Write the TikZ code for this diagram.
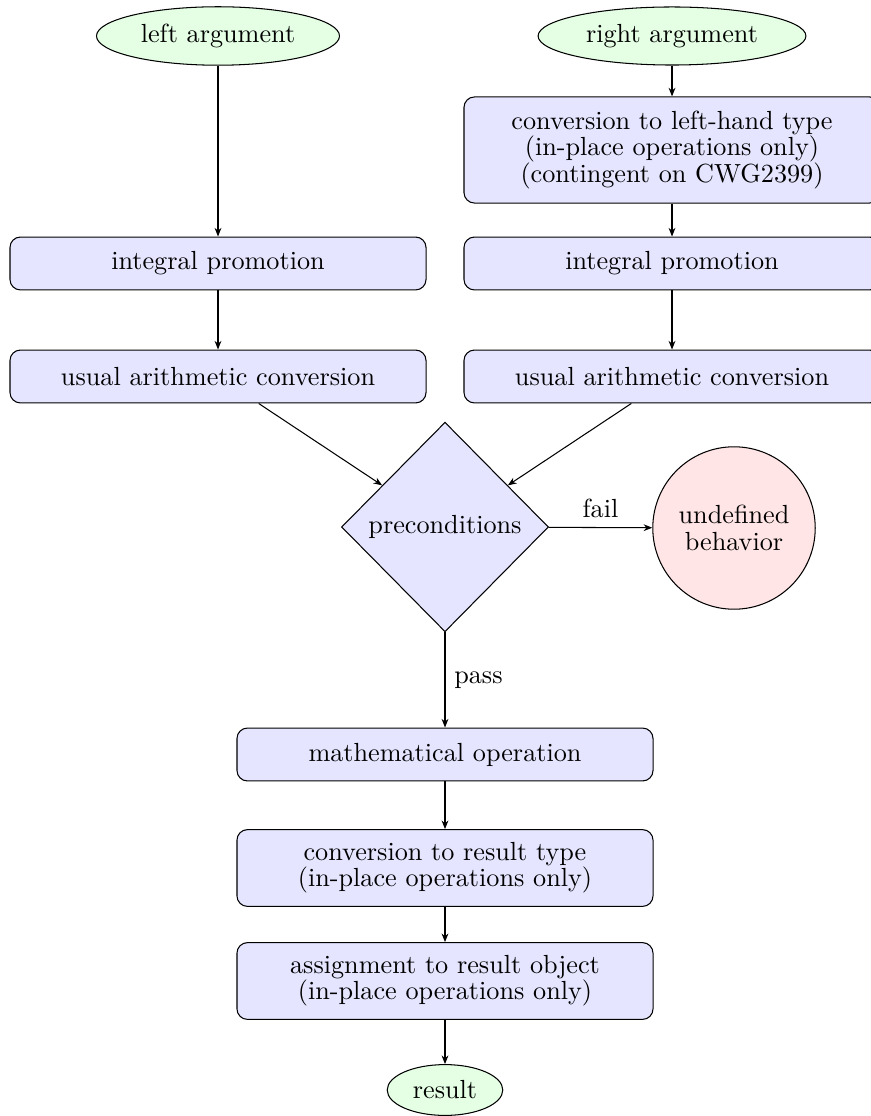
\documentclass[tikz,border=0pt]{standalone}
\usetikzlibrary{shapes.geometric,arrows.meta}
\begin{document}
\begin{tikzpicture}[x=0.3817pt,y=-0.3817pt,
  every node/.style={font=\fontsize{10pt}{10pt}\selectfont},
  proc/.style={draw, rounded corners=4pt, fill=blue!10, align=center,
    minimum width=158.8pt, minimum height=20.2pt, inner ysep=2pt},
  proctwo/.style={proc, minimum height=29.3pt},
  procthree/.style={proc, minimum height=40.5pt},
  term/.style={draw, ellipse, fill=green!10},
  decide/.style={draw, diamond, fill=blue!10, minimum width=79pt, minimum height=80pt, inner sep=0pt},
  bad/.style={draw, circle, fill=red!10, align=center, minimum size=62pt, inner sep=0pt},
  arr/.style={-{Stealth[length=3.3pt,width=2.6pt]}}
]
\useasboundingbox (0,0) rectangle (870,1116);
\node[term] (la) at (218,36) {left argument};
\node[term] (ra) at (672,36) {right argument};
\node[procthree] (rconv) at (672,150) {conversion to left-hand type\\(in-place operations only)\\(contingent on CWG2399)};
\node[proc] (lip) at (218,263.5) {integral promotion};
\node[proc] (rip) at (672,263.5) {integral promotion};
\node[proc] (luac) at (218,376.5) {usual arithmetic conversion};
\node[proc] (ruac) at (672,376.5) {usual arithmetic conversion};
\node[decide] (pre) at (445,527) {preconditions};
\node[bad] (ub) at (734,528) {undefined\\behavior};
\node[proc] (math) at (445,754.5) {mathematical operation};
\node[proctwo] (cres) at (445,868) {conversion to result type\\(in-place operations only)};
\node[proctwo] (asg) at (445,981) {assignment to result object\\(in-place operations only)};
\node[term] (res) at (445,1090) {result};
\draw[arr] (la) -- (lip);
\draw[arr] (lip) -- (luac);
\draw[arr] (ra) -- (rconv);
\draw[arr] (rconv) -- (rip);
\draw[arr] (rip) -- (ruac);
\draw[arr] (luac) -- (pre);
\draw[arr] (ruac) -- (pre);
\draw[arr] (pre) -- node[above] {fail} (ub);
\draw[arr] (pre) -- node[right] {pass} (math);
\draw[arr] (math) -- (cres);
\draw[arr] (cres) -- (asg);
\draw[arr] (asg) -- (res);
\end{tikzpicture}
\end{document}
